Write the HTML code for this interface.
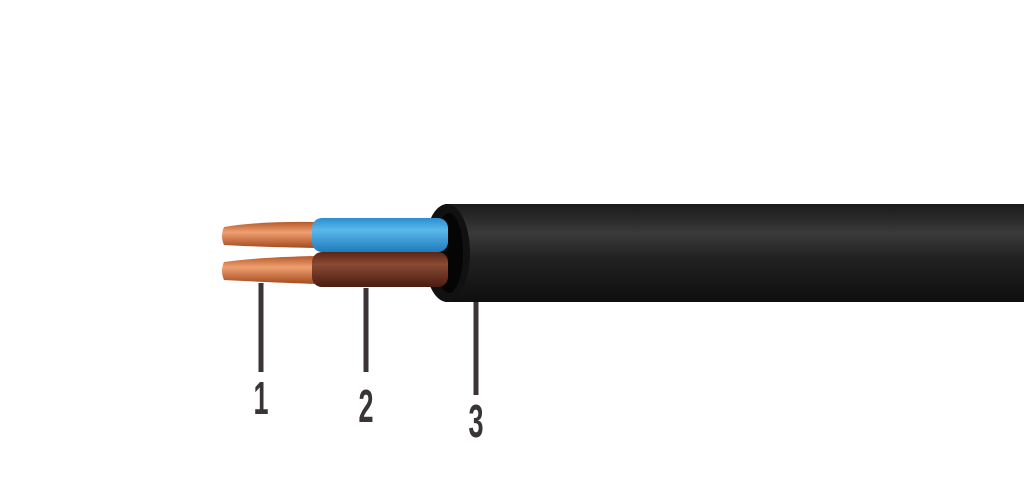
<!DOCTYPE html>
<html><head><style>
html,body{margin:0;padding:0;background:#fff;width:1024px;height:491px;overflow:hidden}
</style></head><body>
<svg width="1024" height="491" xmlns="http://www.w3.org/2000/svg">
<defs>
<linearGradient id="jk" x1="0" y1="0" x2="0" y2="1">
<stop offset="0" stop-color="#1a1a1a"/><stop offset="0.3" stop-color="#3a3a3a"/><stop offset="0.55" stop-color="#222"/><stop offset="1" stop-color="#0e0e0e"/></linearGradient>
<linearGradient id="bl" x1="0" y1="0" x2="0" y2="1">
<stop offset="0" stop-color="#2a8fd0"/><stop offset="0.35" stop-color="#5ab8ea"/><stop offset="1" stop-color="#1f7cbd"/></linearGradient>
<linearGradient id="br" x1="0" y1="0" x2="0" y2="1">
<stop offset="0" stop-color="#5a2414"/><stop offset="0.35" stop-color="#8a4a34"/><stop offset="1" stop-color="#4a1c10"/></linearGradient>
<linearGradient id="cu" x1="0" y1="0" x2="0" y2="1">
<stop offset="0" stop-color="#b5592a"/><stop offset="0.4" stop-color="#f0a070"/><stop offset="1" stop-color="#a34a20"/></linearGradient>
</defs>
<rect x="445" y="204" width="579" height="98" fill="url(#jk)"/>
<ellipse cx="447" cy="253" rx="23" ry="49" fill="#111"/>
<ellipse cx="449" cy="253" rx="14" ry="40" fill="#050505"/>
<path d="M224 227 Q260 221 318 222 L318 248 Q260 247 224 245 Q220 236 224 227Z" fill="url(#cu)"/>
<path d="M224 262 Q260 257 318 256 L318 284 Q260 282 224 280 Q220 271 224 262Z" fill="url(#cu)"/>
<rect x="312" y="218" width="136" height="34" rx="10" fill="url(#bl)"/>
<rect x="312" y="252" width="136" height="35" rx="10" fill="url(#br)"/>
<g stroke="#3a3436" stroke-width="5">
<line x1="261" y1="283" x2="261" y2="372"/>
<line x1="366" y1="288" x2="366" y2="372"/>
<line x1="476" y1="302" x2="476" y2="395"/>
</g>
<g font-family="Liberation Sans, sans-serif" font-weight="bold" fill="#3a3436" font-size="36" text-anchor="middle">
<text transform="translate(261,414) scale(0.75,1.3)">1</text>
<text transform="translate(366,422) scale(0.75,1.3)">2</text>
<text transform="translate(476,437) scale(0.75,1.3)">3</text>
</g>
</svg>
</body></html>
